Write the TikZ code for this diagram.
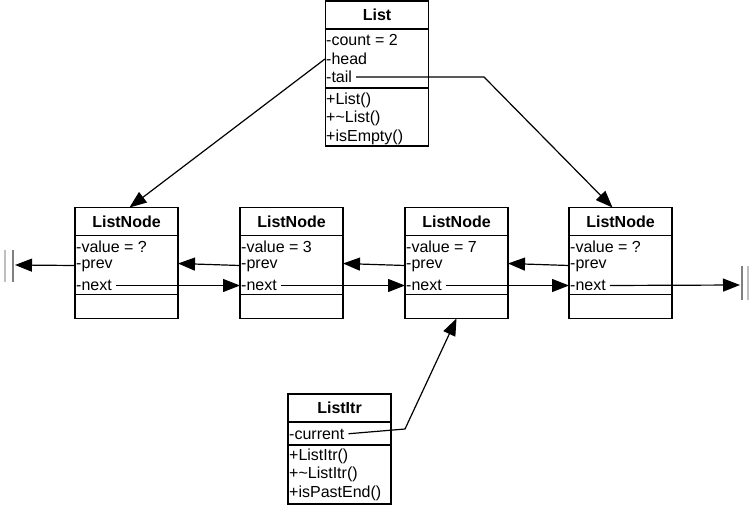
\documentclass[tikz,border=0pt]{standalone}
\usepackage{fontspec}
\setmainfont{Liberation Sans}
\usetikzlibrary{arrows.meta,positioning}

\begin{document}
\begin{tikzpicture}[x=1pt,y=-1pt, every node/.style={font=\fontsize{16}{18}\selectfont}, box/.style={draw,line width=1.2pt,outer sep=0pt,inner sep=0pt,minimum width=103pt}, hd/.style={box,font=\fontsize{16}{18}\selectfont\bfseries,minimum height=28pt}, row/.style={anchor=west,inner sep=1pt}, ptr/.style={-{Triangle[length=17pt,width=13pt]},line width=1.2pt}, nil/.style={line width=1.5pt}]
\useasboundingbox (0,0) rectangle (750,506);
% List
\node[hd] (list) at (377,15) {List};
\node[box,minimum height=59pt,below=0pt of list] (lattr) {};
\node[box,minimum height=58pt,below=0pt of lattr] (lops) {};
\node[row] (lcount) at (325,40) {-count = 2};
\node[row] (lhead) at (325,59) {-head};
\node[row] (ltail) at (325,77) {-tail};
\node[row] (lctor) at (325,100) {+List()};
\node[row] (ldtor) at (325,118) {+\textasciitilde List()};
\node[row] (lempty) at (325,137) {+isEmpty()};
% ListNodes
\foreach \nm/\x/\v in {a/126.5/?,b/291.5/3,c/456.5/7,d/620.5/?} {
  \node[hd] (\nm) at (\x,221.5) {ListNode};
  \node[box,minimum height=59pt,below=0pt of \nm] (\nm a) {};
  \node[box,minimum height=24pt,below=0pt of \nm a] (\nm m) {};
  \node[row] (\nm v) at ([yshift=-11pt]\nm a.north west) {-value = \v};
  \node[row] (\nm p) at ([yshift=-30pt]\nm a.north west) {-prev};
  \node[row] (\nm n) at ([yshift=-50pt]\nm a.north west) {-next};
}
% ListItr
\node[hd] (itr) at (339.5,408) {ListItr};
\node[box,minimum height=23pt,below=0pt of itr] (iattr) {};
\node[box,minimum height=59pt,below=0pt of iattr] (iops) {};
\node[row] (icur) at (288,434) {-current};
\node[row] (ictor) at (288,456) {+ListItr()};
\node[row] (idtor) at (288,474) {+\textasciitilde ListItr()};
\node[row] (iend) at (288,493) {+isPastEnd()};
% bends and null ends
\coordinate (tbend) at (484,77);
\coordinate (cbend) at (405,429);
\coordinate (lnil) at (15,265);
\coordinate (rnil) at (740,285);
\draw[nil,gray] (13,250) -- (13,282);
\draw[nil,lightgray] (5,250) -- (5,282);
\draw[nil,gray] (742,266) -- (742,300);
\draw[nil,lightgray] (748,266) -- (748,300);
% pointers
\draw[ptr] (lhead.west) -- ([xshift=3pt]a.north);
\draw[ptr,shorten <=3pt] (ltail.east) -- (tbend) -- ([xshift=-8pt]d.north);
\draw[ptr] (ap.west) -- (lnil);
\draw[ptr] (bp.west) -- ([yshift=2pt]aa.east |- ap);
\draw[ptr] (cp.west) -- ([yshift=2pt]ba.east |- bp);
\draw[ptr] (dp.west) -- ([yshift=2pt]ca.east |- cp);
\draw[ptr,shorten <=3pt] (an.east) -- (bn.west);
\draw[ptr,shorten <=3pt] (bn.east) -- (cn.west);
\draw[ptr,shorten <=3pt] (cn.east) -- (dn.west);
\draw[ptr,shorten <=3pt] (dn.east) -- (rnil);
\draw[ptr,shorten <=3pt] (icur.east) -- (cbend) -- (cm.south);
\end{tikzpicture}
\end{document}
